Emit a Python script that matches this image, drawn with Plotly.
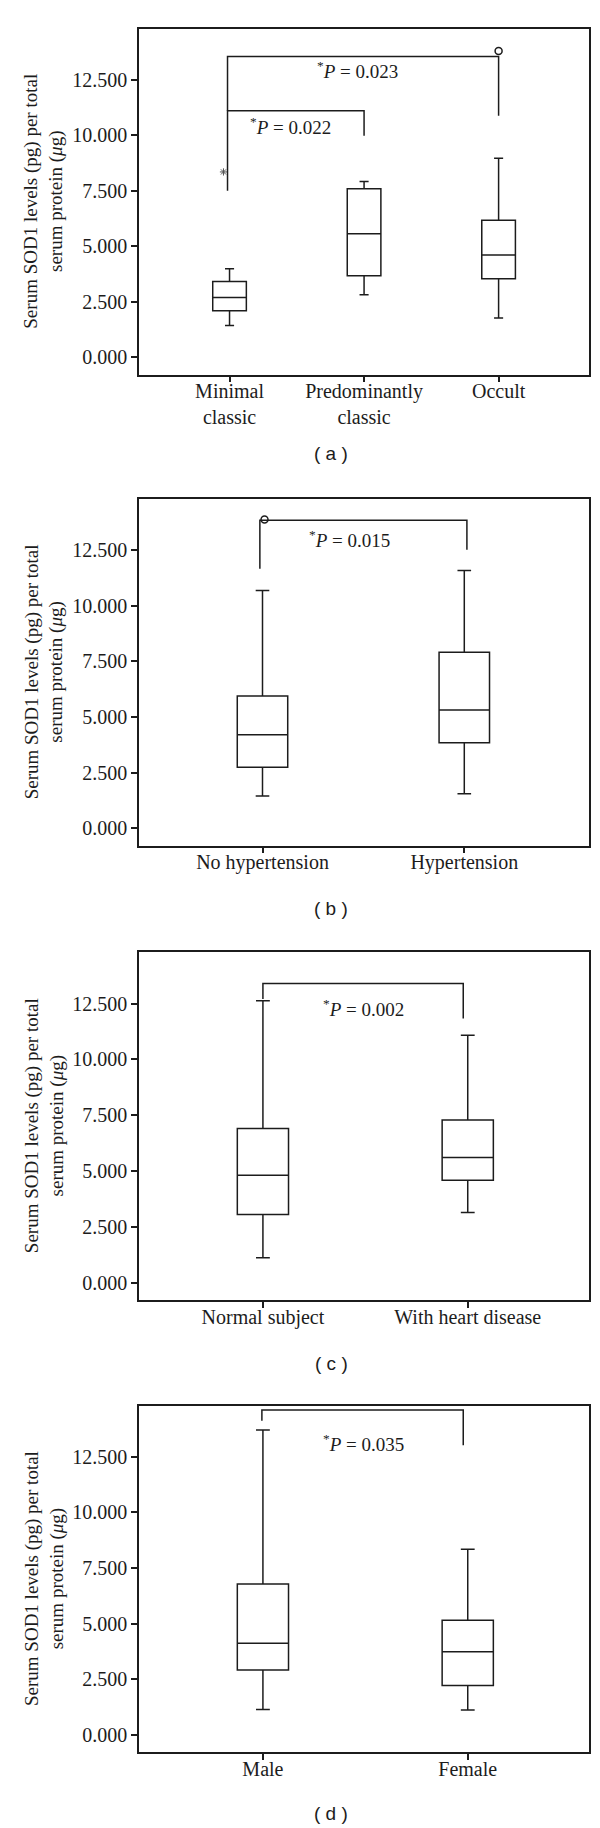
import plotly.graph_objects as go
from plotly.subplots import make_subplots

# ---- panel (a): CNV subtype ----
cats_a = ["Minimal<br>classic", "Predominantly<br>classic", "Occult"]
pos_a = [0, 1, 2]
lo_a = [1.44, 2.82, 1.77]
q1_a = [2.10, 3.68, 3.54]
med_a = [2.70, 5.57, 4.61]
q3_a = [3.42, 7.59, 6.18]
hi_a = [3.99, 7.92, 8.97]

# ---- panel (b): hypertension ----
cats_b = ["No hypertension", "Hypertension"]
pos_b = [0, 1]
lo_b = [1.45, 1.56]
q1_b = [2.74, 3.85]
med_b = [4.21, 5.32]
q3_b = [5.95, 7.91]
hi_b = [10.69, 11.59]

# ---- panel (c): heart disease ----
cats_c = ["Normal subject", "With heart disease"]
pos_c = [0, 1]
lo_c = [1.11, 3.14]
q1_c = [3.05, 4.59]
med_c = [4.81, 5.61]
q3_c = [6.91, 7.28]
hi_c = [12.63, 11.08]

# ---- panel (d): sex ----
cats_d = ["Male", "Female"]
pos_d = [0, 1]
lo_d = [1.14, 1.12]
q1_d = [2.92, 2.22]
med_d = [4.12, 3.74]
q3_d = [6.78, 5.16]
hi_d = [13.71, 8.35]

# outliers (circle = outlier, asterisk = extreme)
out_circle_a = ([2], [13.80])
out_star_a = ([-0.045], [8.35])
out_circle_b = ([0.01], [13.88])

# significance brackets: (x list, y list, p value, label x, label y)
brackets_a = [
    ([-0.015, -0.015, 1.0, 1.0], [7.50, 11.10, 11.10, 9.98], "0.022", 0.45, 10.40),
    ([-0.015, -0.015, 2.0, 2.0], [11.10, 13.55, 13.55, 10.88], "0.023", 0.95, 12.95),
]
brackets_b = [([-0.013, -0.013, 1.013, 1.013], [11.66, 13.85, 13.85, 12.52], "0.015", 0.43, 12.98)]
brackets_c = [([0.0, 0.0, 0.978, 0.978], [12.71, 13.40, 13.40, 11.83], "0.002", 0.49, 12.32)]
brackets_d = [([-0.005, -0.005, 0.978, 0.978], [14.12, 14.61, 14.61, 13.02], "0.035", 0.49, 13.11)]

panel_tags = ["( a )", "( b )", "( c )", "( d )"]
y_ticks = [0, 2.5, 5, 7.5, 10, 12.5]

INK = "#1c1c1c"
SERIF = "Liberation Serif"
H = 1828
# frame positions in pixels (top, bottom) for each panel
frames_px = [(20.7, 366.7), (491.0, 837.7), (944.3, 1292.0), (1397.7, 1744.3)]
tag_px = [446, 900, 1355, 1805]
xranges = [[-0.673, 2.672], [-0.612, 1.618], [-0.605, 1.592], [-0.605, 1.592]]

fig = make_subplots(rows=4, cols=1)

panels = [
    (cats_a, pos_a, lo_a, q1_a, med_a, q3_a, hi_a, brackets_a),
    (cats_b, pos_b, lo_b, q1_b, med_b, q3_b, hi_b, brackets_b),
    (cats_c, pos_c, lo_c, q1_c, med_c, q3_c, hi_c, brackets_c),
    (cats_d, pos_d, lo_d, q1_d, med_d, q3_d, hi_d, brackets_d),
]

annotations = []
for i, (cats, pos, lo, q1, med, q3, hi, brackets) in enumerate(panels):
    row = i + 1
    fig.add_trace(
        go.Box(
            x=pos, q1=q1, median=med, q3=q3, lowerfence=lo, upperfence=hi,
            width=0.25, whiskerwidth=0.27, fillcolor="white",
            line=dict(color=INK, width=1.5), boxpoints=False,
            showlegend=False, hoverinfo="skip",
        ),
        row=row, col=1,
    )
    for bx, by, p, tx, ty in brackets:
        fig.add_trace(
            go.Scatter(x=bx, y=by, mode="lines", line=dict(color=INK, width=1.5),
                       showlegend=False, hoverinfo="skip"),
            row=row, col=1,
        )
        ax = "x" if row == 1 else f"x{row}"
        ay = "y" if row == 1 else f"y{row}"
        annotations.append(dict(
            x=tx, y=ty, xref=ax, yref=ay, showarrow=False,
            text=f"<sup>*</sup><i>P</i> = {p}",
            font=dict(family=SERIF, size=19, color=INK),
        ))

    top, bot = frames_px[i]
    fig.update_xaxes(
        domain=[131 / 600, 581 / 600], range=xranges[i],
        tickvals=pos, ticktext=cats, ticks="outside", ticklen=6, tickwidth=1.5,
        tickcolor=INK, showline=True, mirror=True, linewidth=1.5, linecolor=INK,
        showgrid=False, zeroline=False, ticklabelstandoff=-8,
        tickfont=dict(family=SERIF, size=20, color=INK),
        row=row, col=1,
    )
    fig.update_yaxes(
        domain=[1 - bot / H, 1 - top / H], range=[-0.78, 14.8],
        tickvals=y_ticks, tickformat=".3f", ticks="outside", ticklen=6, tickwidth=1.5,
        tickcolor=INK, showline=True, mirror=True, linewidth=1.5, linecolor=INK,
        showgrid=False, zeroline=False,
        tickfont=dict(family=SERIF, size=20, color=INK),
        row=row, col=1,
    )
    # y axis title
    annotations.append(dict(
        x=36 / 600, y=1 - (top + bot) / 2 / H, xref="paper", yref="paper",
        showarrow=False, textangle=-90, xanchor="center", yanchor="middle",
        text="Serum SOD1 levels (pg) per total<br>serum protein (<i>μ</i>g)",
        font=dict(family=SERIF, size=19, color=INK),
    ))
    # panel tag
    annotations.append(dict(
        x=323 / 600, y=1 - tag_px[i] / H, xref="paper", yref="paper",
        showarrow=False, xanchor="center", yanchor="middle",
        text=panel_tags[i],
        font=dict(family="Liberation Sans", size=19, color=INK),
    ))

# outlier markers
fig.add_trace(go.Scatter(x=out_circle_a[0], y=out_circle_a[1], mode="markers",
                         marker=dict(symbol="circle-open", size=7, color=INK, line=dict(width=1.5)),
                         showlegend=False, hoverinfo="skip"), row=1, col=1)
fig.add_trace(go.Scatter(x=out_star_a[0], y=out_star_a[1], mode="markers",
                         marker=dict(symbol="asterisk-open", size=6, color="#555", line=dict(width=1)),
                         showlegend=False, hoverinfo="skip"), row=1, col=1)
fig.add_trace(go.Scatter(x=out_circle_b[0], y=out_circle_b[1], mode="markers",
                         marker=dict(symbol="circle-open", size=7, color=INK, line=dict(width=1.5)),
                         showlegend=False, hoverinfo="skip"), row=2, col=1)

fig.update_layout(
    width=600, height=H,
    margin=dict(l=0, r=0, t=0, b=0),
    paper_bgcolor="white", plot_bgcolor="white",
    annotations=annotations,
    showlegend=False,
)

fig.write_html("out.html")
